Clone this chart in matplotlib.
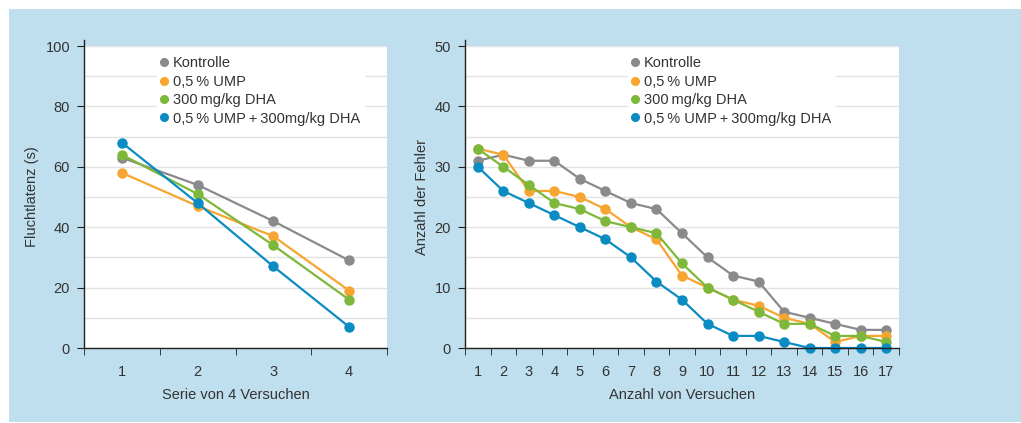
import matplotlib
matplotlib.use("Agg")
import matplotlib.pyplot as plt
from matplotlib.lines import Line2D
from matplotlib.patches import Rectangle
from matplotlib.ticker import MultipleLocator, FixedLocator

plt.rcParams['font.family'] = ['Liberation Sans Narrow', 'Liberation Sans', 'DejaVu Sans']

# Daten
namen = ["Kontrolle", "0,5\u2009% UMP", "300\u2009mg/kg DHA",
         "0,5\u2009% UMP\u2009+\u2009300mg/kg DHA"]
farben = ["#8a8a8c", "#f7a531", "#7db83a", "#0a8cc2"]

serien = [1, 2, 3, 4]
latenz_kontrolle = [63, 54, 42, 29]
latenz_ump = [58, 47, 37, 19]
latenz_dha = [64, 51, 34, 16]
latenz_kombi = [68, 48, 27, 7]

versuche = list(range(1, 18))
fehler_kontrolle = [31, 32, 31, 31, 28, 26, 24, 23, 19, 15, 12, 11, 6, 5, 4, 3, 3]
fehler_ump = [33, 32, 26, 26, 25, 23, 20, 18, 12, 10, 8, 7, 5, 4, 1, 2, 2]
fehler_dha = [33, 30, 27, 24, 23, 21, 20, 19, 14, 10, 8, 6, 4, 4, 2, 2, 1]
fehler_kombi = [30, 26, 24, 22, 20, 18, 15, 11, 8, 4, 2, 2, 1, 0, 0, 0, 0]

hintergrund = "#c0dfee"
textfarbe = "#333333"

fig = plt.figure(figsize=(10.21, 4.23), dpi=100, facecolor="white")
fig.patches.append(Rectangle((9 / 1021, 1 / 423), 1 - 9 / 1021, 413 / 423,
                             transform=fig.transFigure, facecolor=hintergrund,
                             edgecolor="none", zorder=-10))

ax1 = fig.add_axes([84 / 1021, 75 / 423, 303 / 1021, 302 / 423])
ax2 = fig.add_axes([465 / 1021, 75 / 423, 434 / 1021, 302 / 423])


def zeichne(ax, x, reihen, ymax, ymajor, yminor, xlabel, ylabel, legend_pos,
            ylabelpad):
    for y, farbe in zip(reihen, farben):
        ax.plot(x, y, color=farbe, lw=1.6, marker="o", markersize=6.5,
                clip_on=False)
    ax.set_xlim(0.5, len(x) + 0.5)
    ax.set_ylim(0, ymax)
    ax.set_facecolor("white")
    for s in ["top", "right"]:
        ax.spines[s].set_visible(False)
    for s in ["left", "bottom"]:
        ax.spines[s].set_color("#222222")
        ax.spines[s].set_linewidth(1.0)
    ax.spines["left"].set_bounds(0, ymax * 1.02)
    ax.yaxis.set_major_locator(MultipleLocator(ymajor))
    ax.yaxis.set_minor_locator(MultipleLocator(yminor))
    ax.grid(which="both", axis="y", color="#e3e3e3", lw=1.0)
    ax.set_axisbelow(True)
    ax.xaxis.set_major_locator(FixedLocator(x))
    ax.xaxis.set_minor_locator(FixedLocator([v + 0.5 for v in [0] + list(x)]))
    ax.tick_params(axis="x", which="major", length=0, pad=12, labelsize=10.5,
                   labelcolor=textfarbe)
    ax.tick_params(axis="x", which="minor", length=5, direction="out",
                   color="#222222")
    ax.tick_params(axis="y", which="major", length=5, pad=5, labelsize=10.5,
                   labelcolor=textfarbe, color="#222222")
    ax.tick_params(axis="y", which="minor", length=0)
    ax.set_xlabel(xlabel, fontsize=10.5, color=textfarbe, labelpad=7)
    ax.set_ylabel(ylabel, fontsize=10.5, color=textfarbe, labelpad=ylabelpad)
    griffe = [Line2D([], [], ls="none", marker="o", markersize=5.5,
                     color=f) for f in farben]
    leg = ax.legend(griffe, namen, loc="upper left", bbox_to_anchor=legend_pos,
                    frameon=True, fontsize=10.5, handlelength=0.4,
                    handletextpad=0.4, labelspacing=0.3, borderpad=0.3,
                    borderaxespad=0, labelcolor=textfarbe)
    leg.get_frame().set_facecolor("white")
    leg.get_frame().set_edgecolor("none")
    leg.get_frame().set_alpha(1)


zeichne(ax1, serien, [latenz_kontrolle, latenz_ump, latenz_dha, latenz_kombi],
        100, 20, 10, "Serie von 4 Versuchen", "Fluchtlatenz (s)",
        (73 / 303, 0.98), 5)
zeichne(ax2, versuche, [fehler_kontrolle, fehler_ump, fehler_dha, fehler_kombi],
        50, 10, 5, "Anzahl von Versuchen", "Anzahl der Fehler",
        (163 / 434, 0.98), 4)

fig.savefig("out.png", dpi=100, facecolor=fig.get_facecolor())
